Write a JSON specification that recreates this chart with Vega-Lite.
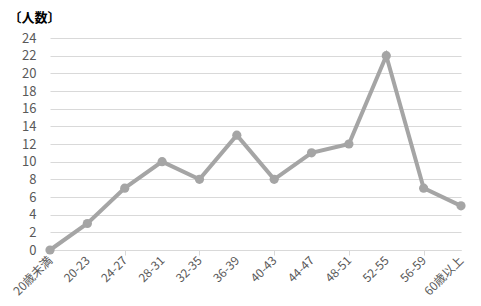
{
  "$schema": "https://vega.github.io/schema/vega-lite/v6.json",
  "width": 411,
  "height": 212,
  "autosize": {"type": "none"},
  "padding": {"left": 50, "top": 38, "right": 20, "bottom": 56},
  "background": "white",
  "config": {
    "view": {"stroke": null},
    "font": "Noto Sans CJK JP",
    "axis": {"labelFont": "Noto Sans CJK JP", "titleFont": "Noto Sans CJK JP"}
  },
  "data": {"values": [
    {"age": "20歳未満", "count": 0},
    {"age": "20-23", "count": 3},
    {"age": "24-27", "count": 7},
    {"age": "28-31", "count": 10},
    {"age": "32-35", "count": 8},
    {"age": "36-39", "count": 13},
    {"age": "40-43", "count": 8},
    {"age": "44-47", "count": 11},
    {"age": "48-51", "count": 12},
    {"age": "52-55", "count": 22},
    {"age": "56-59", "count": 7},
    {"age": "60歳以上", "count": 5}
  ]},
  "encoding": {
    "y": {"field": "count", "type": "quantitative",
      "scale": {"domain": [0, 24], "nice": false},
      "axis": {"values": [0,2,4,6,8,10,12,14,16,18,20,22,24], "title": "〔人数〕", "titleAngle": 0, "titleAlign": "left", "titleBaseline": "middle", "titleX": -42, "titleY": -21, "titleFontSize": 13, "titleFontWeight": "bold", "titleColor": "#000000", "labelFontSize": 13, "labelColor": "#595959", "labelPadding": 14, "ticks": false, "domain": false, "grid": true, "gridColor": "#D9D9D9", "gridWidth": 1}}
  },
  "layer": [
    {
      "mark": {"type": "line", "opacity": 0},
      "encoding": {
        "x": {"field": "age", "type": "ordinal", "sort": null,
          "scale": {"type": "point", "padding": 0},
          "axis": {"orient": "bottom", "title": null, "values": ["20歳未満", "24-27", "32-35", "40-43", "48-51", "56-59"], "labels": false, "ticks": true, "tickSize": 5, "tickColor": "#D9D9D9", "domain": false, "grid": false}}
      }
    },
    {
      "mark": {"type": "line", "color": "#A5A5A5", "strokeWidth": 4, "point": {"filled": true, "color": "#A5A5A5", "size": 85, "opacity": 1}},
      "encoding": {
        "x": {"field": "age", "type": "ordinal", "sort": null,
          "scale": {"type": "point", "padding": 0},
          "axis": {"orient": "bottom", "title": null, "labelAngle": -45, "labelAlign": "right", "labelBaseline": "middle", "labelFontSize": 12, "labelColor": "#595959", "labelPadding": 8, "ticks": false, "domain": true, "domainColor": "#D9D9D9", "grid": false}}
      }
    }
  ],
  "resolve": {"axis": {"x": "independent"}}
}
